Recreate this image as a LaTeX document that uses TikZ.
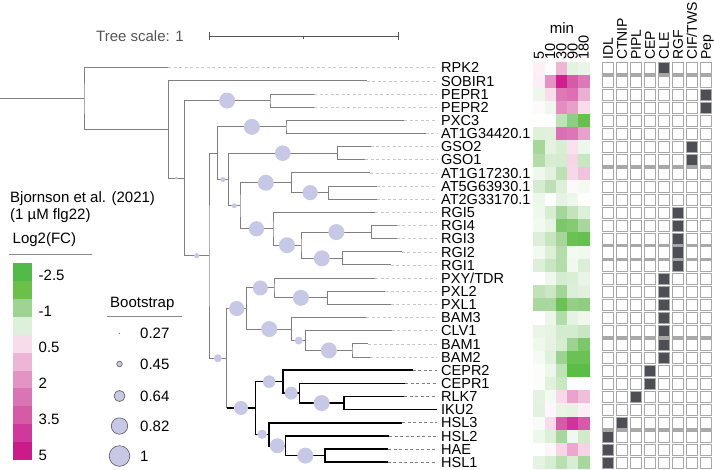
\documentclass[tikz,border=0pt]{standalone}
\usepackage{fontspec}
\setmainfont{Liberation Sans}
\usetikzlibrary{calc}
\definecolor{treegray}{HTML}{7F7F7F}
\definecolor{leadgray}{HTML}{C8C8C8}
\definecolor{bsfill}{HTML}{C7C7E6}
\definecolor{boxgray}{HTML}{A8A8A8}
\definecolor{boxdark}{HTML}{4E4F54}
\definecolor{txtgray}{HTML}{555555}
\definecolor{ruleg}{HTML}{8A8A8A}
\tikzset{
  tree/.style={draw=treegray, line width=1pt},
  btree/.style={draw=black, line width=1.5pt},
  leader/.style={draw=leadgray, line width=0.6pt, dash pattern=on 3pt off 2.5pt},
  bleader/.style={draw=treegray, line width=0.8pt, dash pattern=on 3pt off 2.5pt},
  leaflabel/.style={anchor=west, inner xsep=4pt, inner ysep=0pt, text height=10.4pt, text depth=0pt, font=\fontsize{14.5}{15}\selectfont},
  hdr/.style={rotate=90, anchor=west, inner sep=0pt, text height=10pt, text depth=0pt, font=\fontsize{14}{15}\selectfont},
  numhdr/.style={rotate=90, anchor=west, inner sep=0pt, text height=10pt, text depth=0pt, font=\fontsize{14.5}{15}\selectfont},
  legtxt/.style={anchor=west, inner sep=0pt, font=\fontsize{15}{16}\selectfont},
  bsdot/.style={fill=bsfill},
  legdot/.style={fill=bsfill, draw=black!65, line width=0.6pt},
  cell/.style={draw=boxgray, line width=1.15pt, fill=white},
  darkcell/.style={draw=boxgray, line width=1.15pt, fill=boxdark}
}
\newcommand\clade[4]{\draw[#4] (#2) -| (#1) |- (#3);}
\newcommand\bsc[3]{\fill[bsdot] ($(#1|-#2)!0.5!(#2)$) circle (#3pt);}
\begin{document}
\begin{tikzpicture}[x=1pt,y=-1pt]
\useasboundingbox (0,0) rectangle (714,469);

% ---------- heatmap ----------
\foreach \vals [count=\i from 0] in {
{FCEFF5,FFFFFF,EFB5D5,E4F2E1,EAF5E7},
{FCEEF4,E293C3,CF1F8E,D75AA7,DE78B7},
{EEF7EC,F9DDEB,DE78B7,DC70B3,EAB0D1},
{FDFAFB,F0F8EE,E38DC0,E89FCA,F8DCEA},
{FFFFFF,FFFFFF,BFE2B7,8FCD7F,66BF4F},
{DFF0DB,E1F1DD,DA6FB3,DC77B6,E7A2CB},
{A5D69A,E4F3E0,D8EED3,F9E1ED,EEF7EC},
{B3DCA9,D7EDD2,D5ECD0,F6D5E6,C9E6C2},
{EFF8ED,E2F1DE,BDE1B4,F6D8E8,F1C4DD},
{D5ECD0,BDE1B4,DCEFD8,FDF8FA,F4FAF2},
{EEF7EC,FFFFFF,E5F3E2,EDF7EB,FFFFFF},
{EFF8ED,D6EDD1,A6D69B,C3E3BB,DCEFD8},
{F2F9F0,E7F4E4,7DC76B,86CA74,A8D79D},
{DCEFD8,C7E6C0,A6D69B,6CC155,67BF50},
{F2F9F0,DDEFD9,B5DDAB,F3FAF1,F1F9EF},
{DDEFD9,C8E6C1,B5DDAB,F1F9EF,DBEFD7},
{FFFFFF,F0F8EE,D4ECCF,D9EED4,E8F4E5},
{C1E2B9,CBE7C4,A2D596,DCEFD8,E2F1DE},
{A9D89E,A9D89E,6CC155,94CF86,8FCD80},
{FFFFFF,ECF6EA,B2DCA8,E6F3E3,F0F8EE},
{EAF5E7,E6F3E3,D3EBCE,D3EBCE,C8E6C1},
{F0F8EE,E6F3E3,D6EDD1,9ED293,7DC76B},
{F6FAF5,E0F1DC,9ED293,6CC155,6CC155},
{FBFDFA,EDF7EB,BFE2B7,5BBD45,5BBD45},
{FBFDFA,E0F1DC,CAE7C3,FFFFFF,FFFFFF},
{E4F2E1,F3FAF2,F8D8E9,E9A3CC,F1BEDA},
{E3F2E0,FEF6FA,E8F4E5,E6F3E3,FCF0F6},
{F8FBF7,F9DCEB,D75AA7,D0339A,D75AA7},
{EEF7EC,DDEFD9,A8D79D,F1F9EF,D1EACB},
{FFFFFF,FDF6F9,F7D4E6,EBA7CE,F6D2E5},
{E6F3E3,D8EED3,B9DFAF,D8EED3,A8D79D}}{
  \foreach \c [count=\j from 0] in \vals {
    \edef\tmpdef{\noexpand\definecolor{hc}{HTML}{\c}}\tmpdef
    \fill[hc] ({533.3+11.2*\j},{61.5+13.15*\i}) rectangle ++(11.4,13.35);
  }
}
\foreach \t [count=\j from 0] in {5,10,30,90,180}
  \node[numhdr] (h\j) at ({538.9+11.2*\j},60) {\t};
\node[legtxt, anchor=center] (minlab) at (562,28) {min};

% ---------- matrix ----------
\foreach \i in {0,...,30}
  \foreach \j in {0,...,7}
    \draw[cell] ({602.2+14*\j},{62.8+13.15*\i}) rectangle ++(11.4,11.2);
\foreach \i/\j in {0/4,2/7,3/7,6/6,7/6,11/5,12/5,13/5,14/5,15/5,16/4,17/4,18/4,19/4,20/4,21/4,22/4,23/3,24/3,25/2,27/1,28/0,29/0,30/0}
  \draw[darkcell] ({602.2+14*\j},{62.8+13.15*\i}) rectangle ++(11.4,11.2);
\foreach \t [count=\j from 0] in {IDL,CTNIP,PIPL,CEP,CLE,RGF,CIF/TWS,Pep}
  \node[hdr] (m\j) at ({607.9+14*\j},60) {\t};

% ---------- leaves and labels ----------
\foreach \ex/\txt [count=\i from 0] in {168.3/RPK2, 366.7/SOBIR1, 314.3/PEPR1, 314.3/PEPR2, 404/PXC3, 425.7/AT1G34420.1, 370.7/GSO2, 365/GSO1, 370/AT1G17230.1, 376.7/AT5G63930.1, 376.7/AT2G33170.1, 375/RGI5, 396.7/RGI4, 396.7/RGI3, 401.7/RGI2, 390.7/RGI1, 375/{PXY/TDR}, 385/PXL2, 390.7/PXL1, 366/BAM3, 391.7/CLV1, 368.3/BAM1, 370/BAM2, 412.7/CEPR2, 405/CEPR1, 404.3/RLK7, 437/IKU2, 402/HSL3, 389/HSL2, 388.3/HAE, 387.7/HSL1}{
  \pgfmathsetmacro\yy{67.7+13.15*\i}
  \coordinate (L\i) at (\ex,\yy);
  \node[leaflabel] (T\i) at (437,\yy) {\txt};
}
\foreach \i in {0,...,22} \draw[leader] (L\i) -- (T\i.west);
\foreach \i in {23,24,25,27,28,29,30} \draw[bleader] (L\i) -- (T\i.west);

% ---------- internal nodes ----------
\coordinate (start) at (0,98.6);
\coordinate (root) at (84,98.6);
\coordinate (n1) at (168.3,129.5);
\coordinate (nS) at (184.3,178.14);
\coordinate (nP) at (270,100.575);
\coordinate (nBig) at (209,255.71);
\coordinate (nU) at (217.7,153.175);
\coordinate (nX) at (286,126.875);
\coordinate (nA) at (228.3,179.475);
\coordinate (nG) at (337.3,153.175);
\coordinate (nB) at (240,205.775);
\coordinate (nA1) at (291.7,182.76);
\coordinate (nA2) at (328.7,192.625);
\coordinate (nR1) at (273,228.79);
\coordinate (nR2) at (301,245.225);
\coordinate (nR43) at (371.7,232.075);
\coordinate (nR21) at (342.7,258.375);
\coordinate (nLow) at (226.7,358.24);
\coordinate (nCLE) at (246.7,308.51);
\coordinate (nL) at (274,287.96);
\coordinate (nL21) at (327.7,297.825);
\coordinate (nBM) at (291.7,329.06);
\coordinate (nCL) at (305.7,340.56);
\coordinate (nB12) at (352,350.425);
\coordinate (nBL) at (255.3,407.96);
\coordinate (nC2) at (283,381.66);
\coordinate (nC1) at (299.3,393.16);
\coordinate (nRI) at (344,403.025);
\coordinate (nH3) at (269,434.26);
\coordinate (nH2) at (285.7,445.76);
\coordinate (nH1) at (325,455.625);

% ---------- tree ----------
\draw[tree] (start) -- (root);
\clade{root}{L0}{n1}{tree}
\clade{n1}{L1}{nS}{tree}
\clade{nS}{nP}{nBig}{tree}
\clade{nP}{L2}{L3}{tree}
\clade{nBig}{nU}{nLow}{tree}
\clade{nU}{nX}{nA}{tree}
\clade{nX}{L4}{L5}{tree}
\clade{nA}{nG}{nB}{tree}
\clade{nG}{L6}{L7}{tree}
\clade{nB}{nA1}{nR1}{tree}
\clade{nA1}{L8}{nA2}{tree}
\clade{nA2}{L9}{L10}{tree}
\clade{nR1}{L11}{nR2}{tree}
\clade{nR2}{nR43}{nR21}{tree}
\clade{nR43}{L12}{L13}{tree}
\clade{nR21}{L14}{L15}{tree}
\draw[tree] (nCLE) -| (nLow) |- (nLow|-nBL);
\draw[btree] (nLow|-nBL) -- (nBL);
\clade{nCLE}{nL}{nBM}{tree}
\clade{nL}{L16}{nL21}{tree}
\clade{nL21}{L17}{L18}{tree}
\clade{nBM}{L19}{nCL}{tree}
\clade{nCL}{L20}{nB12}{tree}
\clade{nB12}{L21}{L22}{tree}
\clade{nBL}{nC2}{nH3}{btree}
\clade{nC2}{L23}{nC1}{btree}
\clade{nC1}{L24}{nRI}{btree}
\clade{nRI}{L25}{L26}{btree}
\clade{nH3}{L27}{nH2}{btree}
\clade{nH2}{L28}{nH1}{btree}
\clade{nH1}{L29}{L30}{btree}

% ---------- bootstrap circles ----------
\bsc{n1}{nS}{1.6}
\bsc{nS}{nP}{8}
\bsc{nS}{nBig}{2.6}
\bsc{nU}{nX}{8}
\bsc{nU}{nA}{2.5}
\bsc{nA}{nG}{7.8}
\bsc{nA}{nB}{2.5}
\bsc{nB}{nA1}{8}
\bsc{nA1}{nA2}{7.6}
\bsc{nB}{nR1}{7.6}
\bsc{nR1}{nR2}{8}
\bsc{nR2}{nR43}{8}
\bsc{nR2}{nR21}{8}
\bsc{nBig}{nLow}{4}
\bsc{nLow}{nCLE}{7.6}
\bsc{nCLE}{nL}{7.5}
\bsc{nL}{nL21}{8}
\bsc{nCLE}{nBM}{8}
\bsc{nBM}{nCL}{4}
\bsc{nCL}{nB12}{8}
\bsc{nLow}{nBL}{7}
\bsc{nBL}{nC2}{6.3}
\bsc{nC2}{nC1}{6.5}
\bsc{nC1}{nRI}{8}
\bsc{nBL}{nH3}{4.7}
\bsc{nH3}{nH2}{7.5}
\bsc{nH2}{nH1}{8}

% ---------- tree scale ----------
\node[legtxt, text=txtgray] (tscale) at (96,36) {Tree scale: 1};
\coordinate (sb1) at (209.7,36);
\coordinate (sb2) at (398,36);
\coordinate (sbm) at (303.8,36);
\draw[draw=txtgray, line width=1pt] (sb1) -- (sb2);
\draw[draw=txtgray, line width=1pt] ($(sb1)+(0,-4)$) -- ($(sb1)+(0,4)$);
\draw[draw=txtgray, line width=1pt] ($(sb2)+(0,-4)$) -- ($(sb2)+(0,4)$);
\draw[draw=txtgray, line width=1pt] (sbm) -- ($(sbm)+(0,2.5)$);

% ---------- Log2FC legend ----------
\node[legtxt] (bj1) at (10,198.3) {Bjornson et al. (2021)};
\node[legtxt] (bj2) at (10,215.5) {(1 µM flg22)};
\node[legtxt] (lfc) at (12.5,240) {Log2(FC)};
\draw[draw=ruleg, line width=1pt] (9.3,254) -- (92.3,254);
\foreach \c [count=\k from 0] in {52BA48,6CC04A,9ED394,DDF0DA,F9DCEB,EDB5D6,E494C4,DA74B4,D55AA8,D0399B,CB1A8A}{
  \edef\tmpdef{\noexpand\definecolor{bc}{HTML}{\c}}\tmpdef
  \fill[bc] (13.3,{263.3+17.88*\k}) rectangle ++(18.4,18.0);
}
\foreach \t/\yy [count=\k] in {-2.5/275,-1/311,0.5/347,2/383,3.5/419,5/455}
  \node[legtxt] (cb\k) at (38.5,\yy) {\t};

% ---------- Bootstrap legend ----------
\node[legtxt] (bst) at (110,304) {Bootstrap};
\draw[draw=ruleg, line width=1pt] (107,316.7) -- (182,316.7);
\fill[treegray] (119.5,333.3) circle (0.7pt);
\draw[legdot] (119.5,364) circle (2.8pt);
\draw[legdot] (119.5,396) circle (5.5pt);
\draw[legdot] (119.5,426) circle (8.2pt);
\draw[legdot] (119.5,456) circle (10.3pt);
\node[legtxt] (b1) at (140,333.3) {0.27};
\node[legtxt] (b2) at (140,364) {0.45};
\node[legtxt] (b3) at (140,396) {0.64};
\node[legtxt] (b4) at (140,426) {0.82};
\node[legtxt] (b5) at (140,456) {1};
\end{tikzpicture}
\end{document}
